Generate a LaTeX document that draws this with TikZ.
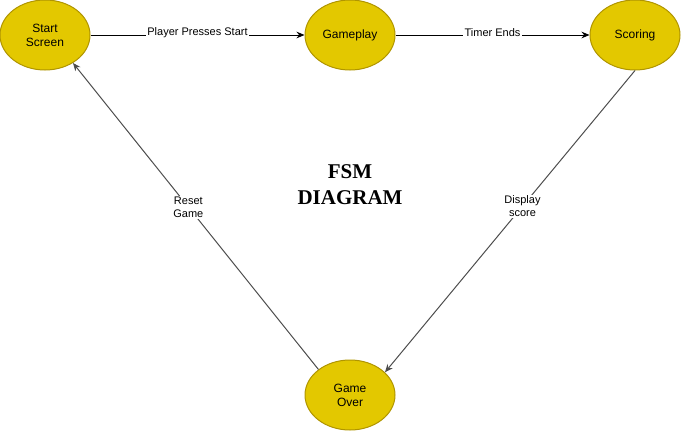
\documentclass[tikz,border=0pt]{standalone}
\usepackage{fontspec}
\setmainfont{Liberation Sans}
\newfontfamily\titlefont{Liberation Serif}
\usetikzlibrary{shapes.geometric,arrows.meta}
\definecolor{stateFill}{RGB}{227,200,0}
\definecolor{stateLine}{RGB}{176,149,0}
\definecolor{edgeGray}{RGB}{77,77,77}
\tikzset{every picture/.style={line width=0.75pt}}
\tikzset{
  state/.style={ellipse, draw=stateLine, fill=stateFill, line width=0.75pt,
    minimum width=67.5pt, minimum height=52.5pt, inner sep=0pt, align=center,
    font=\fontsize{9}{10.5}\selectfont},
  trans/.style={-{Stealth[length=6pt,width=5pt]}, line width=0.75pt},
  edgelabel/.style={fill=white, inner sep=1pt, align=center,
    font=\fontsize{8.25}{9.5}\selectfont}
}

\begin{document}
\begin{tikzpicture}[x=0.75pt,y=0.75pt,yscale=-1,xscale=1]
\useasboundingbox (0,0) rectangle (681,432);

% States
\node[state] (start) at (45,35) {Start\\Screen};
\node[state] (game) at (350,35) {Gameplay};
\node[state] (score) at (635,35) {Scoring};
\node[state] (over) at (350,395) {Game\\Over};

% Title
\node[align=center, font=\titlefont\bfseries\fontsize{15.75}{19.5}\selectfont] (title) at (350,185) {FSM\\DIAGRAM};

% Transitions
\draw[trans] (start) -- node[edgelabel, yshift=1.5pt] {Player Presses Start} (game);
\draw[trans] (game) -- node[edgelabel, yshift=1.5pt] {Timer Ends} (score);
\draw[trans, draw=edgeGray] (score.south) -- node[edgelabel, pos=0.45] {Display\\score} (over.33);
\draw[trans, draw=edgeGray] (over.141) -- node[edgelabel, pos=0.53] {Reset\\Game} (start.-45);

\end{tikzpicture}
\end{document}
